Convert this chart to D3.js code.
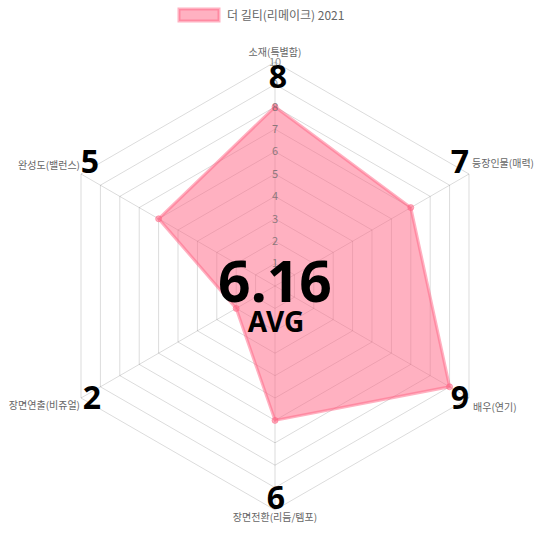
<!DOCTYPE html>
<html><head><meta charset="utf-8">
<script src="https://cdn.jsdelivr.net/npm/d3@7"></script>
<style>html,body{margin:0;padding:0;background:#fff;}svg{display:block;}</style>
</head><body>
<svg id="c" width="540" height="540"></svg>
<script>
const categories = ["소재(특별함)", "등장인물(매력)", "배우(연기)", "장면전환(리듬/템포)", "장면연출(비쥬얼)", "완성도(밸런스)"];
const values = [8, 7, 9, 6, 2, 6];
const scoreLabels = ["8", "7", "9", "6", "2", "5"];
const ticks = [1,2,3,4,5,6,7,8,9,10];
const seriesName = "더 길티(리메이크) 2021";
const avgLabel = "6.16";

const svg = d3.select("#c");
const cx = 275, cy = 286, R = 224;
const r = d3.scaleLinear().domain([0, 10]).range([0, R]);
const n = categories.length;
const ang = i => -Math.PI/2 + i * 2*Math.PI/n;
const pt = (i, v) => [cx + r(v)*Math.cos(ang(i)), cy + r(v)*Math.sin(ang(i))];
const font = "'Noto Sans CJK KR','Noto Sans',sans-serif";

// grid
const g = svg.append("g");
ticks.forEach(t => {
  g.append("polygon")
    .attr("points", categories.map((c,i)=>pt(i,t).join(",")).join(" "))
    .attr("fill","none").attr("stroke","rgba(0,0,0,0.14)").attr("stroke-width",1);
});
categories.forEach((c,i)=>{
  const [x,y] = pt(i,10);
  g.append("line").attr("x1",cx).attr("y1",cy).attr("x2",x).attr("y2",y)
    .attr("stroke","rgba(0,0,0,0.14)");
});

// data
const dg = svg.append("g");
dg.append("polygon")
  .attr("points", values.map((v,i)=>pt(i,v).join(",")).join(" "))
  .attr("fill","rgba(255,99,132,0.5)")
  .attr("stroke","rgba(255,99,132,0.5)").attr("stroke-width",3);
values.forEach((v,i)=>{
  const [x,y]=pt(i,v);
  dg.append("circle").attr("cx",x).attr("cy",y).attr("r",3)
    .attr("fill","rgba(255,99,132,0.5)").attr("stroke","rgba(255,99,132,0.5)");
});

// tick labels
ticks.forEach(t=>{
  svg.append("text").attr("x",cx).attr("y",cy - r(t)).attr("dy","0.35em")
    .attr("text-anchor","middle").attr("font-family",font).attr("font-size",11)
    .attr("fill","rgba(102,102,102,0.75)").text(t);
});

// point labels & big values
const labelPos = [
  {x:275,y:56,a:"middle", bx:278,by:88},
  {x:472,y:167,a:"start", bx:460,by:173},
  {x:473,y:411,a:"start", bx:460,by:409},
  {x:275,y:521,a:"middle", bx:276,by:509},
  {x:80,y:409,a:"end", bx:92,by:409},
  {x:80,y:169,a:"end", bx:90,by:173}
];
categories.forEach((c,i)=>{
  const p = labelPos[i];
  svg.append("text").attr("x",p.x).attr("y",p.y).attr("text-anchor",p.a)
    .attr("font-family",font).attr("font-size",10).attr("fill","#666").text(c);
  svg.append("text").attr("x",p.bx).attr("y",p.by).attr("text-anchor","middle")
    .attr("font-family","'Noto Sans',sans-serif").attr("font-weight","bold")
    .attr("font-size",32).attr("fill","#000").text(scoreLabels[i]);
});

// average
svg.append("text").attr("x",cx).attr("y",302).attr("text-anchor","middle")
  .attr("font-family","'Noto Sans',sans-serif").attr("font-weight","bold")
  .attr("font-size",57).attr("fill","#000").text(avgLabel);
svg.append("text").attr("x",cx+1).attr("y",332).attr("text-anchor","middle")
  .attr("font-family","'Noto Sans',sans-serif").attr("font-weight","bold")
  .attr("font-size",28).attr("fill","#000").text("AVG");

// legend
svg.append("rect").attr("x",179).attr("y",9).attr("width",40).attr("height",12)
  .attr("fill","rgba(255,99,132,0.5)").attr("stroke","rgba(255,99,132,0.5)").attr("stroke-width",3);
svg.append("text").attr("x",227).attr("y",19.5).attr("font-family",font)
  .attr("font-size",12).attr("fill","#666").text(seriesName);
</script>
</body></html>
